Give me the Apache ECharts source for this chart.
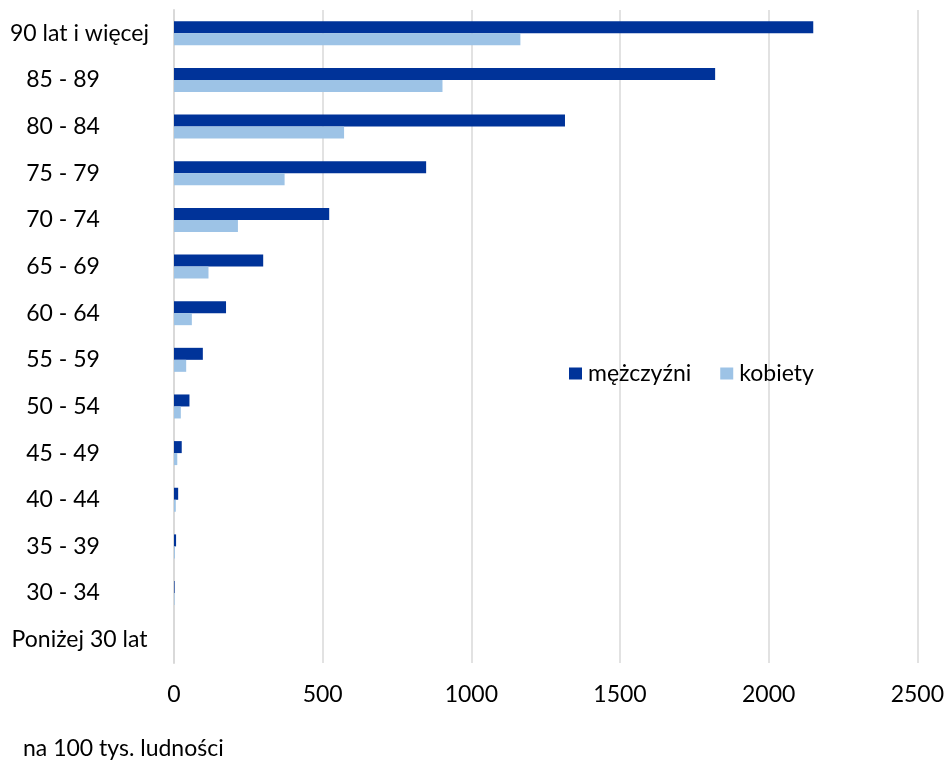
<!DOCTYPE html>
<html><head><meta charset="utf-8">
<script src="https://cdn.jsdelivr.net/npm/echarts@6/dist/echarts.min.js"></script>
<style>html,body{margin:0;padding:0;background:#fff}#c{width:947px;height:762px}</style>
</head><body><div id="c"></div>
<script>
const categories = ['90 lat i więcej','85 - 89','80 - 84','75 - 79','70 - 74','65 - 69','60 - 64','55 - 59','50 - 54','45 - 49','40 - 44','35 - 39','30 - 34','Poniżej 30 lat'];
const men =   [2150, 1820, 1315, 848, 522, 300, 175, 97, 52, 26, 14, 7, 2, 0];
const women = [1165, 903, 572, 372, 215, 116, 60, 41, 23, 11, 6, 3, 2, 0];
const xTicks = [0, 500, 1000, 1500, 2000, 2500];
const FONT = 'Lato';
const FS = 23;
const chart = echarts.init(document.getElementById('c'));
chart.setOption({
  animation:false,
  textStyle:{fontFamily:FONT},
  grid:{left:174,right:27,top:10,bottom:99,containLabel:false},
  legend:{left:564,top:357,itemWidth:13,itemHeight:12,itemGap:29,
    textStyle:{fontFamily:FONT,fontSize:FS,color:'#000',padding:[0,0,0,1]},
    data:[{name:'mężczyźni',icon:'rect'},{name:'kobiety',icon:'rect'}]},
  xAxis:{type:'value',min:xTicks[0],max:xTicks[xTicks.length-1],interval:500,
    axisLine:{show:false},axisTick:{show:false},
    axisLabel:{fontFamily:FONT,fontSize:FS,color:'#000',margin:20,formatter:v=>String(v)},
    splitLine:{lineStyle:{color:'#d9d9d9',width:1.5}}},
  yAxis:{type:'category',data:categories,inverse:true,
    axisLine:{show:true,lineStyle:{color:'#d9d9d9',width:2}},axisTick:{show:false},
    axisLabel:{fontFamily:FONT,fontSize:FS,color:'#000',margin:111,align:'center',
      formatter:v=>v.length>8 ? '{l|'+v+'}' : v,
      rich:{l:{fontFamily:FONT,fontSize:FS,color:'#000',padding:[0,0,0,33]}}}},
  series:[
    {name:'mężczyźni',type:'bar',data:men,barWidth:12,barGap:'0%',itemStyle:{color:'#003399'}},
    {name:'kobiety',type:'bar',data:women,barWidth:12,barGap:'0%',itemStyle:{color:'#9DC3E6'}}
  ],
  graphic:[{type:'text',left:23,top:737,style:{text:'na 100 tys. ludności',fontFamily:FONT,fontSize:FS,fill:'#000'}}]
});
</script></body></html>
